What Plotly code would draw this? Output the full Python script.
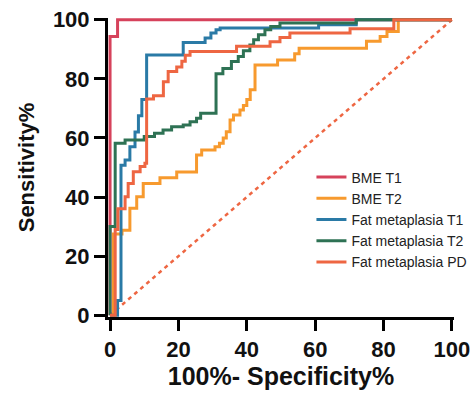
import plotly.graph_objects as go

# ROC curves: step points (x = 100% - Specificity%, y = Sensitivity%), drawn with horizontal-then-vertical steps
bme_t1_x = [0, 0, 2.2, 100]
bme_t1_y = [0, 94.3, 100, 100]

bme_t2_x = [0, 1, 3.5, 5.8, 7.8, 9.7, 14.6, 19.5, 25.3, 26.8, 30.7, 32, 33.1, 34, 35.1, 36.1, 38, 39, 40, 41,
            42.4, 49, 54, 55.3, 75, 79, 81, 84.3, 100]
bme_t2_y = [0, 27.5, 28.8, 36.2, 40.1, 44.6, 46.5, 48.5, 54.2, 55.9, 57, 58.2, 60, 62.1, 66.1, 67.8, 69.5, 71, 73, 76.3,
            84.7, 86.4, 88.5, 90.4, 92.7, 94.3, 96, 100, 100]

fat_t1_x = [0, 2.2, 3.2, 4.4, 5.8, 7.3, 8.3, 9.3, 10.7, 21.4, 27.8, 29.5, 31, 32.2, 61, 72, 100]
fat_t1_y = [0, 5, 50.8, 52.5, 57, 62, 67.5, 73, 88.1, 92.3, 93.8, 95.5, 96.6, 97.2, 98.3, 100, 100]

fat_t2_x = [0, 0, 1.5, 4.4, 10, 13, 15.5, 18, 21.4, 23.4, 25.3, 26.5, 31, 33, 35.5, 37.5, 39, 40.9, 42, 43.4,
            45.3, 47, 49.7, 72, 100]
fat_t2_y = [0, 30, 58.2, 59.3, 60.5, 61.6, 62.7, 63.8, 64.4, 65.5, 66.7, 68.4, 81.7, 83.5, 85.9, 87.6, 89.5, 91.5,
            93.2, 94.9, 96.6, 97.7, 98.9, 100, 100]

fat_pd_x = [0, 1.5, 2.3, 4.4, 5.3, 6.8, 8.8, 10.2, 10.7, 12.7, 15.6, 17, 19.5, 21, 22, 23.4, 37, 46.8, 49.7, 52.6,
            70.2, 83, 100]
fat_pd_y = [0, 29, 36, 40.1, 44.6, 48.6, 50.3, 51.4, 73.2, 74.3, 79, 82.5, 84, 86, 88, 89.3, 91, 92.6, 94, 95.5,
            97, 100, 100]

ref_x = [0, 100]
ref_y = [0, 100]

series_names = ["BME T1", "BME T2", "Fat metaplasia T1", "Fat metaplasia T2", "Fat metaplasia PD"]
series_x = [bme_t1_x, bme_t2_x, fat_t1_x, fat_t2_x, fat_pd_x]
series_y = [bme_t1_y, bme_t2_y, fat_t1_y, fat_t2_y, fat_pd_y]
colors = ["#D6425B", "#F79A2E", "#2A7AA6", "#2E7254", "#EE6642"]

x_ticks = [0, 20, 40, 60, 80, 100]
y_ticks = [0, 20, 40, 60, 80, 100]

fig = go.Figure()
fig.add_trace(go.Scatter(x=ref_x, y=ref_y, mode="lines", showlegend=False, hoverinfo="skip",
                         line=dict(color="#EE6642", width=2.5, dash="4px,4px")))
for name, xs, ys, c in zip(series_names, series_x, series_y, colors):
    fig.add_trace(go.Scatter(x=xs, y=ys, mode="lines", name=name, line_shape="hv",
                             line=dict(color=c, width=3)))

font_fam = "Arial, Liberation Sans, Helvetica, sans-serif"
axis_common = dict(showline=True, linecolor="black", linewidth=3, ticks="outside", ticklen=11, tickwidth=3,
                   tickcolor="black", showgrid=False, zeroline=False, layer="below traces", automargin=False,
                   tickfont=dict(family=font_fam, size=22, color="#111", weight="bold"))

fig.update_layout(
    width=473, height=398, autosize=False,
    margin=dict(l=108, r=19, t=18, b=81, autoexpand=False),
    paper_bgcolor="white", plot_bgcolor="white",
    xaxis=dict(range=[-0.6, 100.6], tickvals=x_ticks,
               title=dict(text="100%- Specificity%", font=dict(family=font_fam, size=25, color="#111", weight="bold"),
                          standoff=4),
               **axis_common),
    yaxis=dict(range=[-0.6, 100.6], tickvals=y_ticks,
               title=dict(text="Sensitivity%", font=dict(family=font_fam, size=22, color="#111", weight="bold"),
                          standoff=13),
               **axis_common),
    legend=dict(x=0.588, y=0.52, xanchor="left", yanchor="top", bgcolor="rgba(0,0,0,0)",
                font=dict(family=font_fam, size=14, color="#222"), itemwidth=30),
)

post = ("document.body.style.margin='0';document.body.style.padding='0';"
        "document.body.style.overflow='hidden';document.documentElement.style.overflow='hidden';")

fig.write_html("out.html", config={"responsive": False, "displayModeBar": False}, post_script=post)
